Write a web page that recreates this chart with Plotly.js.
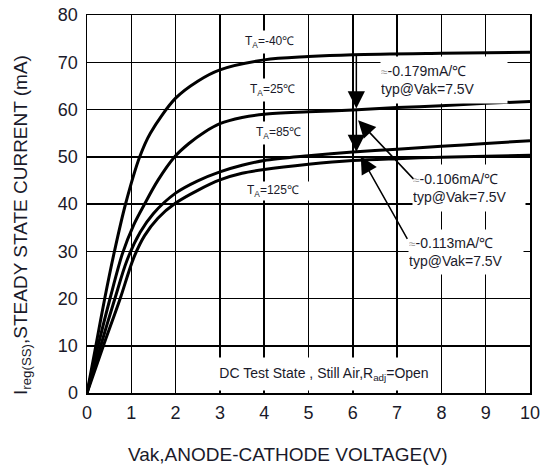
<!DOCTYPE html>
<html>
<head>
<meta charset="utf-8">
<script src="https://cdn.plot.ly/plotly-3.0.1.min.js"></script>
<style>html,body{margin:0;padding:0;background:#fff;}#chart{width:545px;height:476px;}</style>
</head>
<body>
<div id="chart"></div>
<script>
// Curve data: Vak (V) vs Ireg(SS) (mA)
var vakNeg40 = [0, 0.2, 0.40, 0.62, 0.87, 1.19, 1.43, 2.0, 2.5, 3.0, 4.0, 5.0, 6.0, 8.0, 10.0];
var iNeg40   = [0, 10, 20, 30, 40, 50, 55, 62.4, 66.0, 68.4, 70.5, 71.2, 71.6, 71.9, 72.1];

var vak25 = [0, 0.25, 0.52, 0.8, 1.05, 1.3, 1.6, 1.98, 2.3, 2.65, 3.0, 3.5, 4.0, 5.0, 6.0, 7.0, 8.0, 9.0, 10.0];
var i25   = [0, 10, 20, 29.5, 35.5, 40, 45.0, 50, 52.8, 55.2, 57.0, 58.3, 59.0, 59.5, 59.9, 60.4, 60.8, 61.3, 61.7];

var vak85 = [0, 0.31, 0.63, 0.9, 1.2, 1.5, 2.0, 2.5, 3.0, 3.5, 4.0, 5.0, 6.0, 7.0, 8.0, 9.0, 10.0];
var i85   = [0, 10, 20, 28, 34.0, 38.0, 42.3, 44.9, 46.8, 48.2, 49.2, 50.2, 51.0, 51.6, 52.2, 52.8, 53.4];

var vak125 = [0, 0.37, 0.75, 1.05, 1.3, 1.6, 2.0, 2.5, 3.0, 3.5, 4.0, 5.0, 6.0, 7.0, 8.0, 9.0, 10.0];
var i125   = [0, 10, 20, 28.5, 33.3, 37.0, 40.2, 42.9, 45.1, 46.5, 47.3, 48.4, 49.2, 49.6, 49.9, 50.1, 50.3];

var xTicks = [0, 1, 2, 3, 4, 5, 6, 7, 8, 9, 10];
var yTicks = [0, 10, 20, 30, 40, 50, 60, 70, 80];

var xTitle = 'Vak,ANODE-CATHODE VOLTAGE(V)';
var yTitle = 'I<sub>reg(SS)</sub>,STEADY STATE CURRENT (mA)';
var curveLabels = ['T<sub>A</sub>=-40\u2103', 'T<sub>A</sub>=25\u2103', 'T<sub>A</sub>=85\u2103', 'T<sub>A</sub>=125\u2103'];
var slopeLabels = ['-0.179mA/\u2103', '-0.106mA/\u2103', '-0.113mA/\u2103'];
var slopeCondition = 'typ@Vak=7.5V';
var noteText = 'DC Test State , Still Air,R<sub>adj</sub>=Open';

var FONT = 'Liberation Sans, Arial, sans-serif';
var TXT = '#1a1a2a';

function curve(x, y) {
  return {x: x, y: y, type: 'scatter', mode: 'lines',
    line: {color: '#000', width: 3, shape: 'spline', smoothing: 0.9},
    hoverinfo: 'skip', showlegend: false};
}

var traces = [curve(vakNeg40, iNeg40), curve(vak25, i25), curve(vak85, i85), curve(vak125, i125)];

function label(text, x, y, size, opts) {
  var a = {text: text, x: x, y: y, xref: 'x', yref: 'y', showarrow: false,
    bgcolor: '#fff', borderpad: 3, font: {family: FONT, size: size, color: TXT}};
  return Object.assign(a, opts || {});
}
function slopeText(i, x, y, w, h) {
  return label('<span style="font-size:12px;color:#999">\u2248</span>' + slopeLabels[i] + '<br>' + slopeCondition,
    x, y, 14, {width: w, height: h, align: 'left', borderpad: 0});
}
function arrow(x, y, ax, ay) {
  return {text: '', x: x, y: y, ax: ax, ay: ay, xref: 'x', yref: 'y', axref: 'x', ayref: 'y',
    showarrow: true, arrowhead: 2, arrowsize: 2.3, arrowwidth: 1.5, arrowcolor: '#000', standoff: 0, startstandoff: 0};
}

var annotations = [
  label(curveLabels[0], 4.13, 74.2, 12),
  label(curveLabels[1], 4.18, 64.1, 12),
  label(curveLabels[2], 4.33, 55.0, 12),
  label(curveLabels[3], 4.55, 42.7, 12, {width: 84, align: 'left', borderpad: 1}),
  slopeText(0, 8.06, 66.2, 126, 46),
  slopeText(1, 8.62, 43.4, 112, 46),
  slopeText(2, 8.56, 29.8, 114, 44),
  label(noteText, 5.34, 4.12, 14, {width: 226, height: 32, borderpad: 0}),
  arrow(6.08, 60.2, 6.08, 71.7),
  arrow(6.08, 51.0, 6.08, 60.2),
  arrow(6.12, 57.7, 7.40, 45.0),
  arrow(6.18, 50.1, 7.25, 32.3),
  {text: xTitle, xref: 'paper', yref: 'paper', x: 0.454, y: -0.164, xanchor: 'center', yanchor: 'middle',
    showarrow: false, font: {family: FONT, size: 19, color: TXT}},
  {text: yTitle, xref: 'paper', yref: 'paper', x: -0.147, y: 0.444, xanchor: 'center', yanchor: 'middle',
    textangle: -90, showarrow: false, font: {family: FONT, size: 19, color: TXT}}
];

var axisCommon = {
  showgrid: true, gridcolor: '#000', gridwidth: 1.5,
  showline: true, mirror: true, linecolor: '#000', linewidth: 1.5,
  zeroline: false, ticks: 'outside', tickcolor: 'rgba(0,0,0,0)',
  tickfont: {family: FONT, size: 18, color: TXT}, fixedrange: true
};

var layout = {
  width: 545, height: 476,
  margin: {l: 87, r: 15, t: 15, b: 83},
  paper_bgcolor: '#fff', plot_bgcolor: '#fff',
  showlegend: false,
  xaxis: Object.assign({}, axisCommon, {
    range: [0, 10], tickvals: xTicks, ticktext: xTicks.map(String), ticklen: 3
  }),
  yaxis: Object.assign({}, axisCommon, {
    range: [0, 80], tickvals: yTicks, ticktext: yTicks.map(String), ticklen: 4
  }),
  annotations: annotations
};

Plotly.newPlot('chart', traces, layout, {staticPlot: true, displayModeBar: false});
</script>
</body>
</html>
